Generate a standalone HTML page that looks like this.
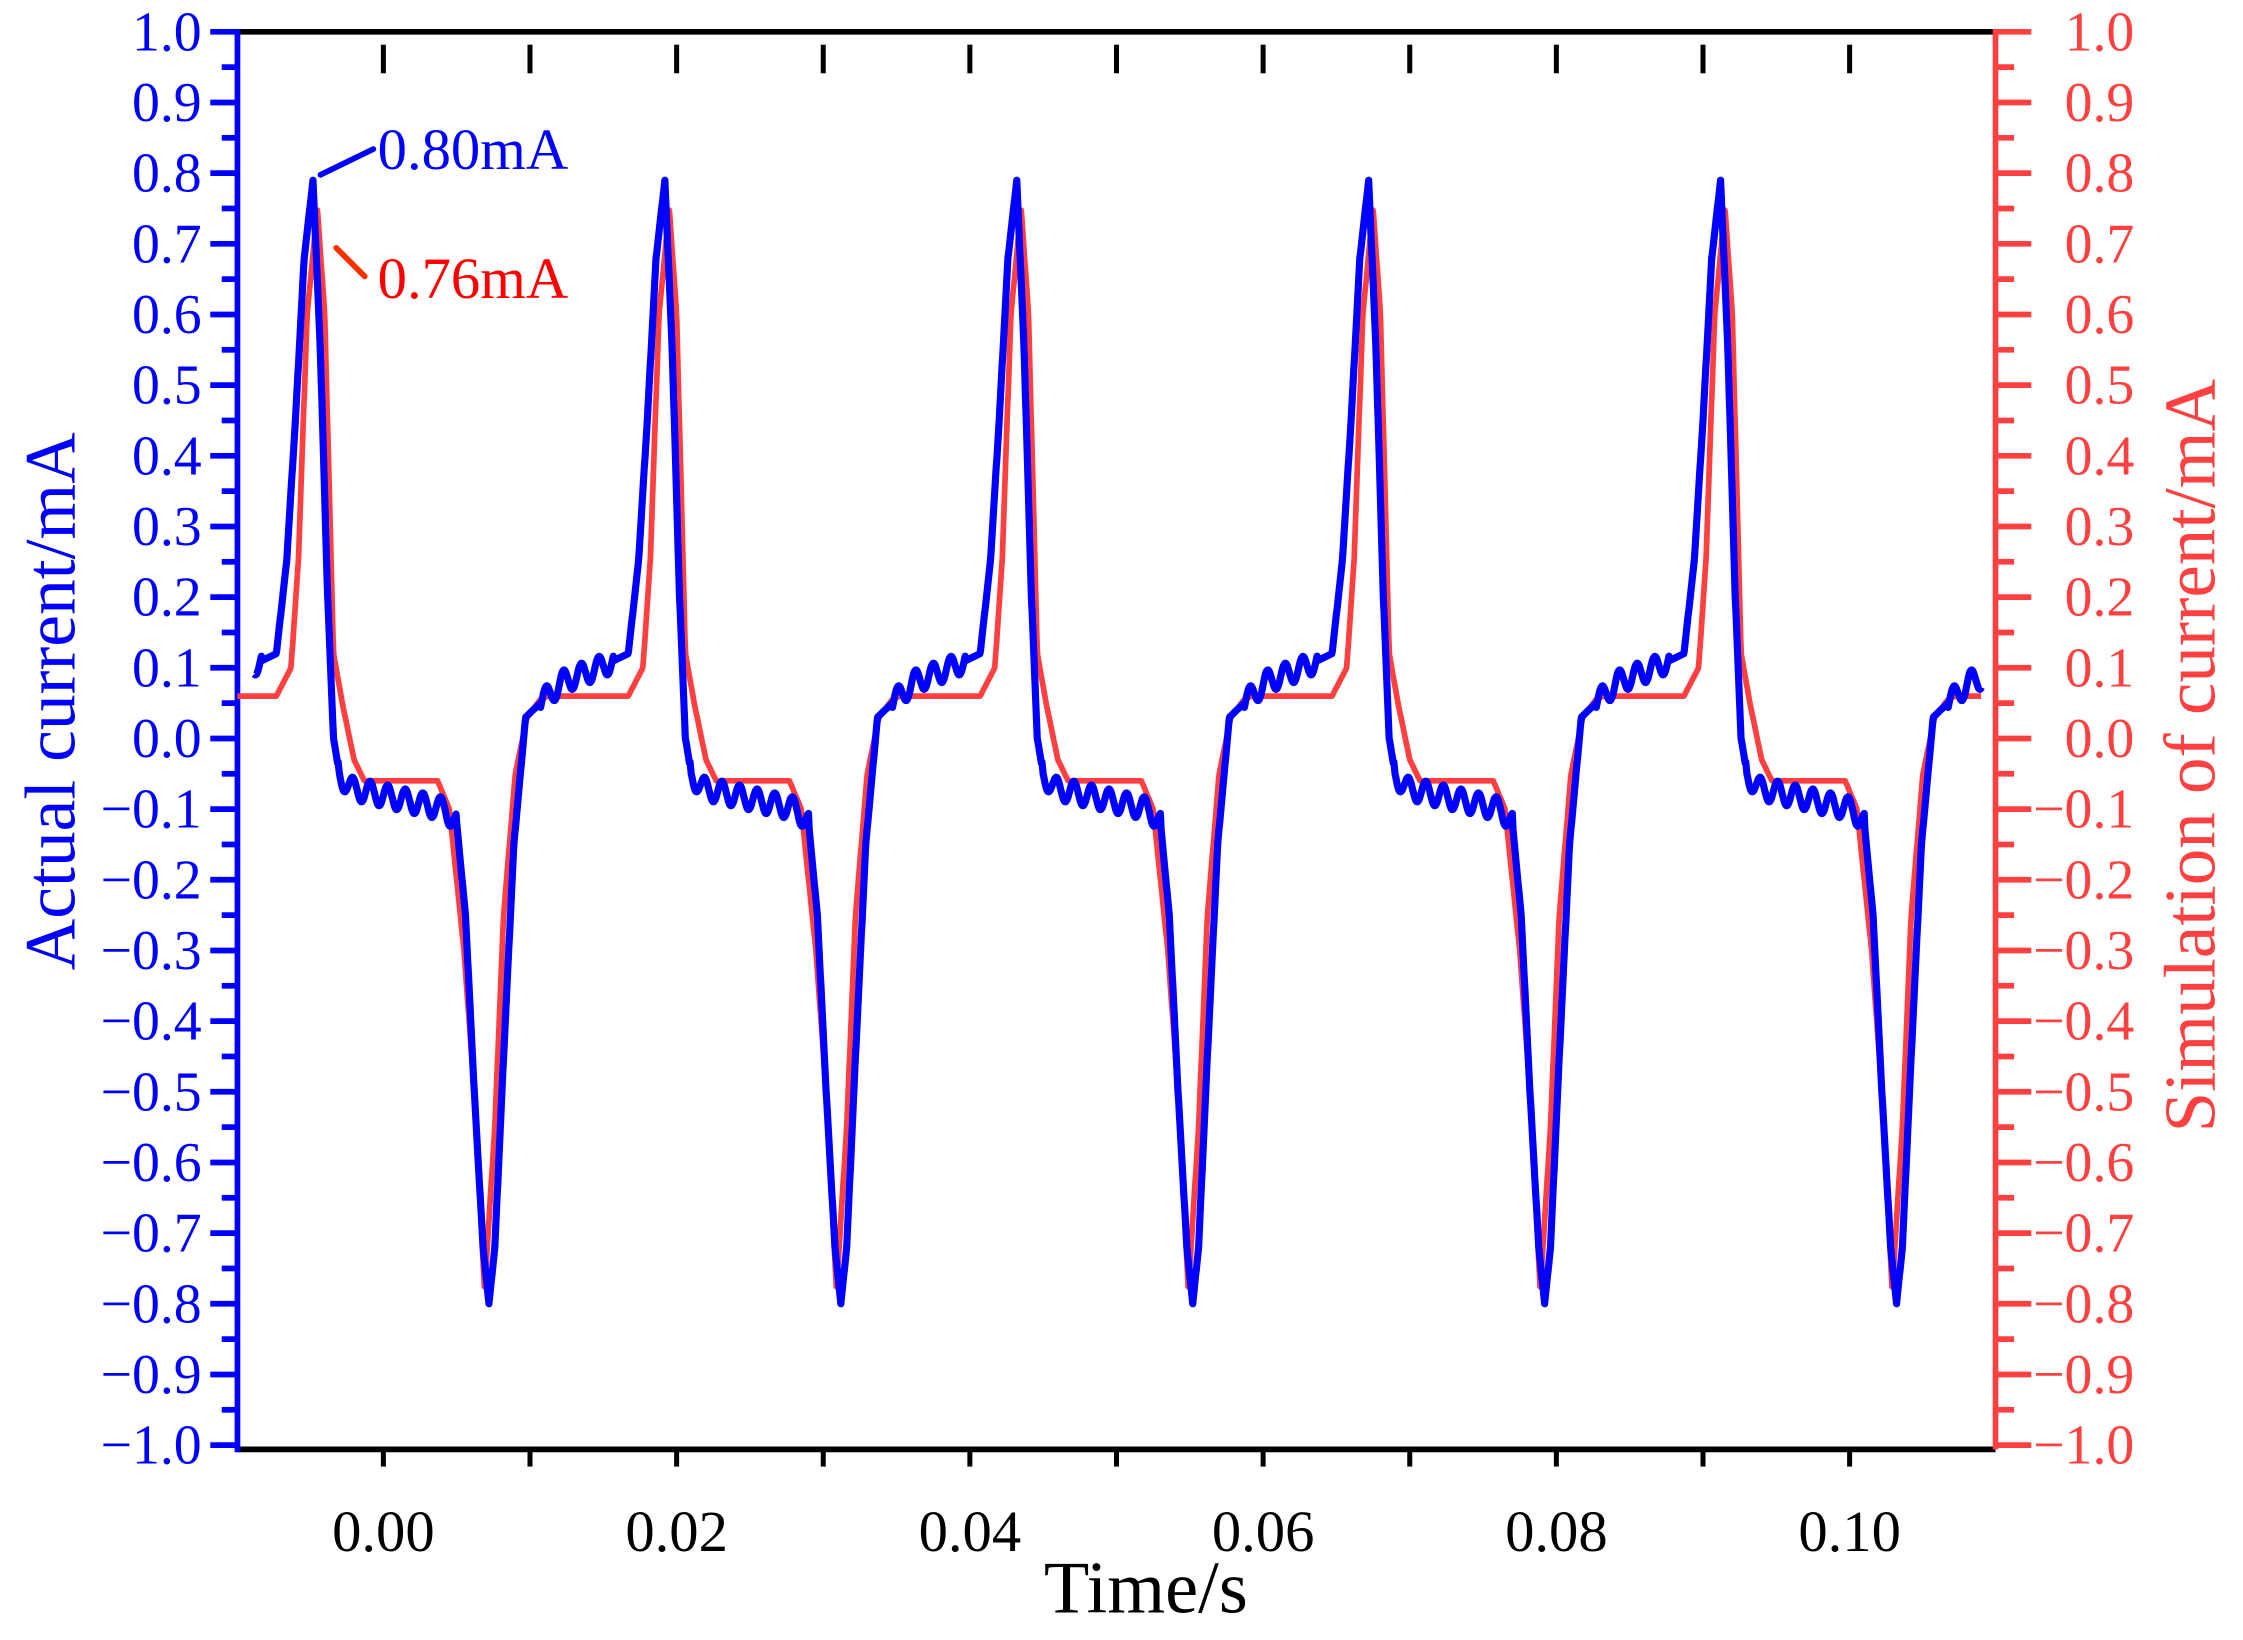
<!DOCTYPE html>
<html><head><meta charset="utf-8"><style>
html,body{margin:0;padding:0;background:#fff;}
svg{display:block;}
text{font-family:"Liberation Serif",serif;}
</style></head><body>
<svg id="s" width="2243" height="1640" viewBox="0 0 1568 1146" xmlns="http://www.w3.org/2000/svg">
<g id="axes"></g>
<path id="red" fill="none" stroke="#ff4040" stroke-width="4" stroke-linejoin="round"/>
<path id="blue" fill="none" stroke="#0000ff" stroke-width="5" stroke-linejoin="round"/>
<line x1="224" y1="122" x2="261" y2="104" stroke="#0000ff" stroke-width="4" stroke-linecap="round"/>
<text x="264" y="118" font-size="41" fill="#0000ff">0.80mA</text>
<line x1="235" y1="173" x2="255" y2="193" stroke="#ff3000" stroke-width="4" stroke-linecap="round"/>
<text x="264" y="208" font-size="41" fill="#ff0000">0.76mA</text>
<text x="801" y="1127" font-size="52" text-anchor="middle" fill="#000">Time/s</text>
<text transform="translate(52,490) rotate(-90)" font-size="50" text-anchor="middle" fill="#0000ff">Actual current/mA</text>
<text transform="translate(1548,528) rotate(-90)" font-size="51" text-anchor="middle" fill="#ff4040">Simulation of current/mA</text>
</svg>
<script>
var L=166,R=1395,T=22,B=1013;
function X(t){return 268+t*10250;}
function Y(v){return 516-v*494;}
var g=document.getElementById('axes'),h='';
h+='<line x1="'+L+'" y1="'+T+'" x2="'+R+'" y2="'+T+'" stroke="#000" stroke-width="4"/>';
h+='<line x1="'+L+'" y1="'+B+'" x2="'+R+'" y2="'+B+'" stroke="#000" stroke-width="4"/>';
for(var i=-1;i<=11;i++){var x=X(i*0.01);if(x<L+2||x>R-2)continue;
 h+='<line x1="'+x+'" y1="31" x2="'+x+'" y2="51" stroke="#000" stroke-width="3.5"/>';
 h+='<line x1="'+x+'" y1="'+B+'" x2="'+x+'" y2="'+(B+12)+'" stroke="#000" stroke-width="3.5"/>';
 if(i%2==0&&i>=0) h+='<text x="'+x+'" y="1084" font-size="41" text-anchor="middle">'+(i/100).toFixed(2)+'</text>';
}
h+='<line x1="'+L+'" y1="'+(T-2)+'" x2="'+L+'" y2="'+(B+2)+'" stroke="#0000ff" stroke-width="4"/>';
h+='<line x1="'+R+'" y1="'+(T-2)+'" x2="'+R+'" y2="'+B+'" stroke="#ff4040" stroke-width="4"/>';
for(var k=-20;k<=20;k++){var v=k/20,y=Y(v),maj=(k%2==0);
 h+='<line x1="'+(maj?147:155)+'" y1="'+y+'" x2="'+L+'" y2="'+y+'" stroke="#0000ff" stroke-width="4"/>';
 h+='<line x1="'+R+'" y1="'+y+'" x2="'+(maj?1420:1408)+'" y2="'+y+'" stroke="#ff4040" stroke-width="4"/>';
 if(maj){var s=Math.abs(v).toFixed(1),neg=v<-0.001;
  h+='<text x="141" y="'+(y+13)+'" font-size="39" text-anchor="end" fill="#0000ff">'+(neg?'\u2212':'')+s+'</text>';
  h+='<text x="1492" y="'+(y+13)+'" font-size="39" text-anchor="end" fill="#ff4040">'+(neg?'\u2212':'')+s+'</text>';
 }
}
g.innerHTML=h;
var bk=[[-0.0035,0.11],[-0.0025,0.12],[-0.0018,0.25],[-0.0012,0.45],[-0.0006,0.68],[0,0.79],[0.0005,0.55],[0.0010,0.2],[0.0014,0.0],[0.0018,-0.05],[0.0025,-0.07],[0.009,-0.1],[0.0098,-0.12],[0.0104,-0.25],[0.011,-0.5],[0.0116,-0.72],[0.012,-0.8],[0.0124,-0.72],[0.013,-0.45],[0.0137,-0.15],[0.0145,0.03],[0.0155,0.05],[0.017,0.08],[0.0195,0.1],[0.0205,0.11]];
var rk=[[-0.0025,0.06],[-0.0015,0.1],[-0.001,0.25],[-0.0004,0.6],[0.0003,0.75],[0.0008,0.6],[0.0014,0.12],[0.002,0.05],[0.0028,-0.03],[0.0035,-0.06],[0.0085,-0.06],[0.0093,-0.1],[0.0103,-0.3],[0.011,-0.5],[0.0117,-0.78],[0.0124,-0.55],[0.013,-0.25],[0.0138,-0.05],[0.0146,0.03],[0.0155,0.055],[0.016,0.06],[0.0215,0.06]];
function interp(k,d){for(var i=0;i<k.length-1;i++){if(d>=k[i][0]&&d<=k[i+1][0]){var f=(d-k[i][0])/(k[i+1][0]-k[i][0]);return k[i][1]+f*(k[i+1][1]-k[i][1]);}}return k[k.length-1][1];}
function val(k,t,w){var tp=-0.0048,P=0.024;var d=((t-tp)%P+P)%P;if(d>P+k[0][0])d-=P;if(d<k[0][0])d+=P;
 var v=interp(k,d);
 if(w&&((d>0.0017&&d<0.0098)||(d>0.0155&&d<0.0205)))v+=0.016*Math.sin(2*Math.PI*d/0.0012);
 return v;}
function path(k,t0,t1,w){var p='';for(var t=t0;t<=t1;t+=0.00004){p+=(p?'L':'M')+X(t).toFixed(1)+','+Y(val(k,t,w)).toFixed(1);}return p;}
document.getElementById('blue').setAttribute('d',path(bk,-0.0088,0.109,true));
document.getElementById('red').setAttribute('d',path(rk,-0.00995,0.109,false));
</script>
</body></html>
